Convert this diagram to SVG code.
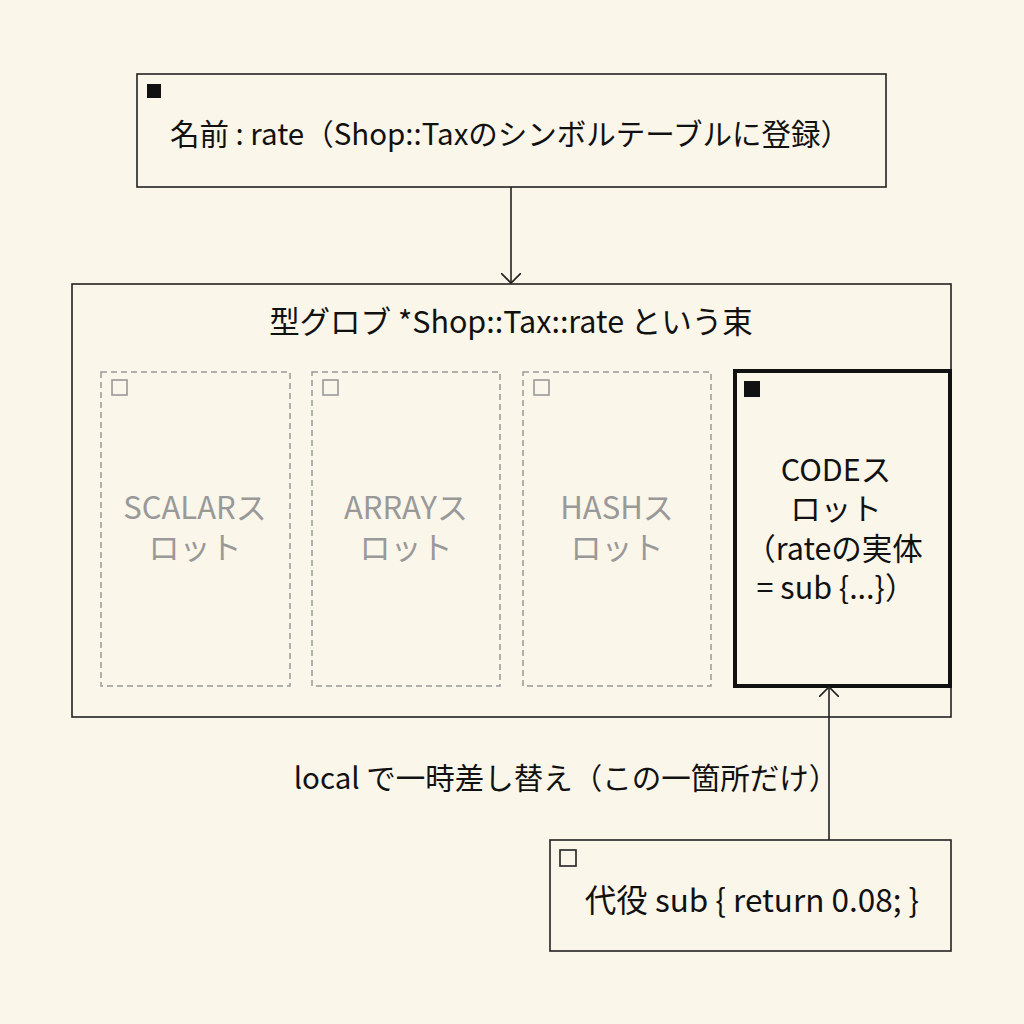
<svg xmlns="http://www.w3.org/2000/svg" width="1024" height="1024" viewBox="0 0 1024 1024">
<style>
text{font-family:"Noto Sans CJK JP","Noto Sans",sans-serif;fill:#111;text-anchor:middle}
.box{fill:none;stroke:#222;stroke-width:1.6}
.slot{fill:none;stroke:#999;stroke-width:1.5;stroke-dasharray:6 4}
.g{fill:#999;font-size:31px}
.hs{fill:none;stroke:#222;stroke-width:1.6}
.hsg{fill:none;stroke:#999;stroke-width:1.6}
.c{fill:none;stroke:#222;stroke-width:1.6}
.k{font-size:30.5px}
</style>
<defs><marker id="ah" markerWidth="20" markerHeight="20" refX="10" refY="10" orient="auto" markerUnits="userSpaceOnUse"><path d="M0,0 L10,10 L0,20" fill="none" stroke="#222" stroke-width="1.6"/></marker></defs>
<rect width="1024" height="1024" fill="#FAF6E9"/>
<g id="name">
<rect class="box" x="137" y="74" width="749" height="113"/>
<rect x="147" y="84" width="14" height="14" fill="#111"/>
<text x="510" y="145" font-size="29.5">名前 : rate（Shop::Taxのシンボルテーブルに登録）</text>
</g>
<g id="glob">
<rect class="box" x="72" y="284" width="879" height="433"/>
<text x="511" y="333" font-size="30.5">型グロブ *Shop::Tax::rate という束</text>
</g>
<g id="scalar"><rect class="slot" x="101" y="372" width="189" height="314"/><rect class="hsg" x="112" y="380" width="15" height="15"/>
<text class="g" x="195" y="519">SCALARス</text><text class="g" x="195" y="559">ロット</text></g>
<g id="array"><rect class="slot" x="312" y="372" width="188" height="314"/><rect class="hsg" x="323" y="380" width="15" height="15"/>
<text class="g" x="406" y="519">ARRAYス</text><text class="g" x="406" y="559">ロット</text></g>
<g id="hash"><rect class="slot" x="523" y="372" width="188" height="314"/><rect class="hsg" x="534" y="380" width="15" height="15"/>
<text class="g" x="617" y="519">HASHス</text><text class="g" x="617" y="559">ロット</text></g>
<g id="code"><rect x="735" y="371" width="215" height="315" fill="none" stroke="#111" stroke-width="4"/>
<rect x="744" y="381" width="16" height="16" fill="#111"/>
<text class="k" x="836" y="481">CODEス</text><text class="k" x="836" y="520">ロット</text>
<text class="k" x="834" y="560">（rateの実体</text><text class="k" x="836" y="599">= sub {...}）</text></g>
<g id="sub"><rect class="box" x="550" y="840" width="401" height="111"/><rect class="hs" x="560" y="850" width="16" height="16"/>
<text x="752" y="912" font-size="31.5">代役 sub { return 0.08; }</text></g>
<g id="connectors">
<line class="c" x1="511" y1="187" x2="511" y2="283" marker-end="url(#ah)"/>
<line class="c" x1="829" y1="840" x2="829" y2="687" marker-end="url(#ah)"/>
<text x="566" y="789" font-size="29.5">local で一時差し替え（この一箇所だけ）</text>
</g>
</svg>
